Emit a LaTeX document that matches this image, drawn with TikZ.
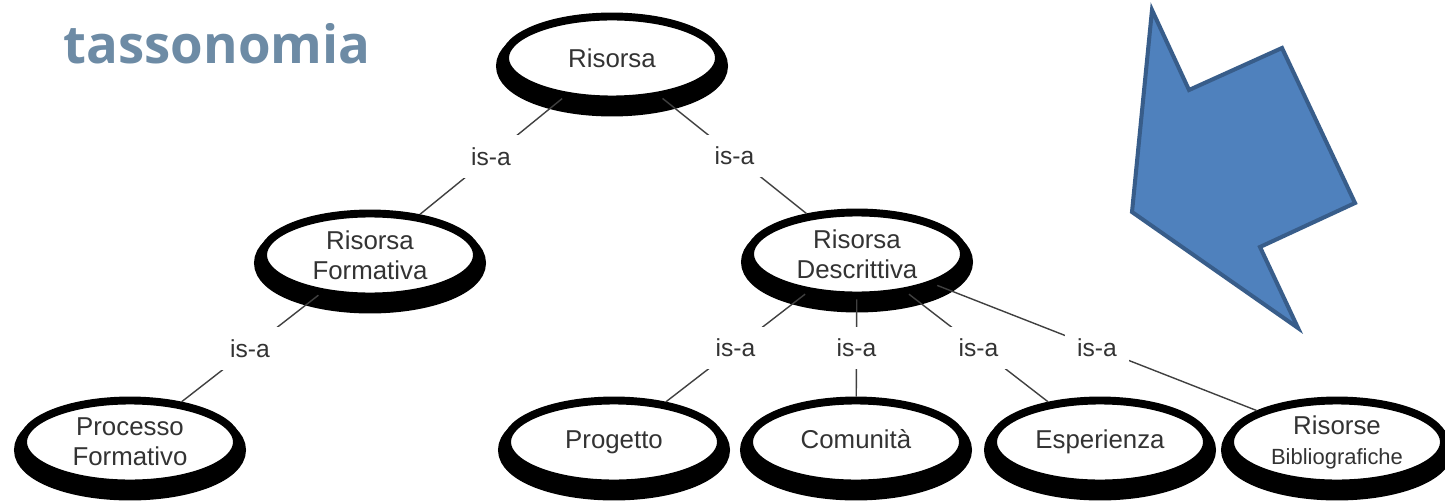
\documentclass[tikz,border=0pt]{standalone}
\usepackage{fontspec}
\setmainfont{Liberation Sans}
\newfontfamily\titlefont{Open Sans}
\usepackage{tikz}
\usetikzlibrary{shapes.geometric, positioning}

\definecolor{titleblue}{HTML}{6D8BA5}
\definecolor{arrowfill}{HTML}{4F81BD}
\definecolor{arrowline}{HTML}{385D8A}
\definecolor{labelgray}{HTML}{333333}

\tikzset{
    concept/.style={ellipse, draw=black, line width=4.5pt, fill=white,
        minimum width=4.28cm, minimum height=1.66cm, inner sep=0pt,
        align=center, text=labelgray, font=\fontsize{14.7}{17}\selectfont,
        preaction={draw=black, fill=black, line width=10.2pt,
            transform canvas={yshift=-0.16cm}}},
    isa/.style={fill=white, inner sep=0.24cm, text=labelgray,
        font=\fontsize{14}{16}\selectfont},
    link/.style={draw=black!75, line width=0.8pt},
    bigarrow/.style={fill=arrowfill, draw=arrowline, line width=2.3pt, line join=miter}
}

\begin{document}
\begin{tikzpicture}
    \useasboundingbox (0,0) rectangle (28.9,10.04);

    % Title
    \node[anchor=base west, text=titleblue,
        font=\titlefont\bfseries\fontsize{30}{35}\selectfont] (title) at (1.15,8.76) {tassonomia};

    % Root and second level
    \node[concept] (risorsa) at (12.24,8.88) {Risorsa};
    \node[concept] (formativa) at (7.40,4.94) {Risorsa\\Formativa};
    \node[concept] (descrittiva) at (17.14,4.96) {Risorsa\\Descrittiva};

    % Leaves
    \node[concept] (processo) at (2.60,1.20) {Processo\\Formativo};
    \node[concept] (progetto) at (12.28,1.20) {Progetto};
    \node[concept] (comunita) at (17.12,1.20) {\vphantom{g}Comunit\smash{à}};
    \node[concept] (esperienza) at (22.00,1.20) {Esperienza};
    \node[concept] (bibliografiche) at (26.74,1.20)
        {Risorse\\{\fontsize{12.5}{14}\selectfont Bibliografiche}};

    % is-a links
    \draw[link] (risorsa) -- node[isa] {is-a} (formativa);
    \draw[link] (risorsa) -- node[isa] {is-a} (descrittiva);
    \draw[link] (formativa) -- node[isa] {is-a} (processo);
    \draw[link] (descrittiva) -- node[isa] {is-a} (progetto);
    \draw[link] (descrittiva) -- node[isa] {is-a} (comunita);
    \draw[link] (descrittiva) -- node[isa] {is-a} (esperienza);
    \draw[link] (descrittiva) -- node[isa] {is-a} (bibliografiche);

    % Big arrow
    \draw[bigarrow] (23.04,9.84) -- (23.78,8.24) -- (25.64,9.08) -- (27.10,5.98)
        -- (25.20,5.10) -- (25.96,3.48) -- (22.64,5.80) -- cycle;

\end{tikzpicture}
\end{document}
